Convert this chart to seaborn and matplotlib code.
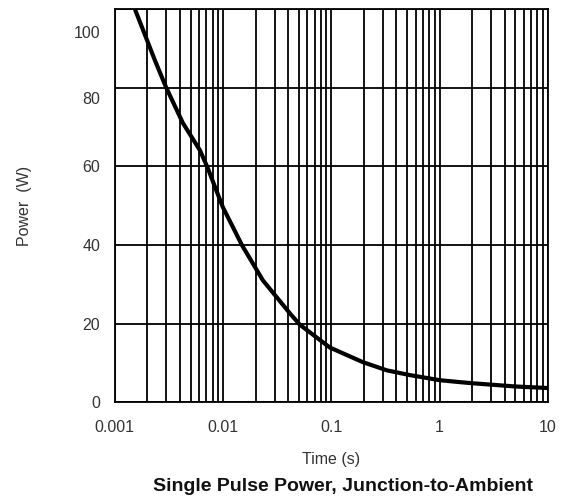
import numpy as np
import pandas as pd
import seaborn as sns
import matplotlib.pyplot as plt
import matplotlib.transforms as mtransforms
from matplotlib.ticker import LogLocator, FixedLocator, NullFormatter

# curve
time_s = [0.00153, 0.00234, 0.00296, 0.00425, 0.0061, 0.00723, 0.0084, 0.00995,
          0.0149, 0.0233, 0.0414, 0.0512, 0.097, 0.195, 0.326, 0.53, 1.0, 1.54,
          2.05, 5.0, 10.0]
power_w = [100, 87.0, 80.2, 71.0, 64.1, 59.5, 54.8, 49.6,
           40, 31, 22.6, 19.7, 13.9, 10.2, 8.1, 6.9, 5.6, 5.1,
           4.8, 4.0, 3.6]

x_ticks = [0.001, 0.01, 0.1, 1, 10]
x_labels = ['0.001', '0.01', '0.1', '1', '10']
y_ticks = [0, 20, 40, 60, 80, 100]
y_labels = ['0', '20', '40', '60', '80', '100']

df = pd.DataFrame({'Time': time_s, 'Power': power_w})

sns.set_style('white')
plt.rcParams['font.family'] = ['Liberation Sans', 'DejaVu Sans']

fig = plt.figure(figsize=(5.63, 4.99), dpi=100)
ax = fig.add_axes([0.204, 0.194, 0.769, 0.788])

sns.lineplot(data=df, x='Time', y='Power', color='black', linewidth=3.0, ax=ax)
ax.lines[0].set_solid_joinstyle('round')

ax.set_xscale('log')
ax.set_xlim(0.001, 10)
ax.set_ylim(0, 100)

ax.xaxis.set_major_locator(FixedLocator(x_ticks))
ax.set_xticklabels(x_labels)
ax.xaxis.set_minor_locator(LogLocator(base=10, subs=np.arange(2, 10)))
ax.xaxis.set_minor_formatter(NullFormatter())
ax.set_yticks(y_ticks)
ax.set_yticklabels(y_labels)

ax.grid(True, which='both', axis='x', color='black', linewidth=1.3)
ax.grid(True, which='major', axis='y', color='black', linewidth=1.3)
ax.set_axisbelow(False)

for side in ['top', 'bottom', 'left', 'right']:
    ax.spines[side].set_color('black')
    ax.spines[side].set_linewidth(1.3)

ax.tick_params(axis='both', which='both', length=0, labelsize=11.5, colors='#333333')
ax.tick_params(axis='x', pad=13)
ax.tick_params(axis='y', pad=10.5)

# the datasheet prints the upper y labels a little below their grid lines
for lab, dy in zip(ax.get_yticklabels(), [0, 0, 0, 0, -10, -23]):
    lab.set_transform(lab.get_transform() +
                      mtransforms.ScaledTranslation(0, dy / 100, fig.dpi_scale_trans))

ax.set_xlabel('Time (s)', fontsize=11.5, color='#333333', labelpad=12)
ax.set_ylabel('Power  (W)', fontsize=11.5, color='#333333', labelpad=30)

fig.text(0.609, 0.026, 'Single Pulse Power, Junction-to-Ambient',
         ha='center', va='center', fontsize=14, fontweight='bold', color='#111111')

fig.savefig('out.png', dpi=100)
